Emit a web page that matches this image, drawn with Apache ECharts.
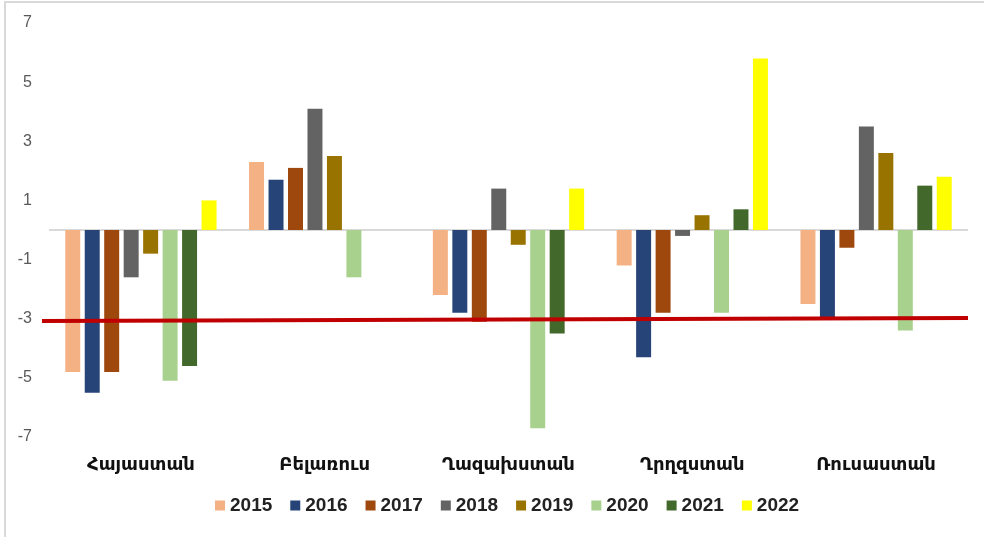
<!DOCTYPE html>
<html>
<head>
<meta charset="utf-8">
<script src="https://cdn.jsdelivr.net/npm/echarts@6/dist/echarts.min.js"></script>
<style>
html,body{margin:0;padding:0;background:#fff;}
#wrap{position:relative;width:984px;height:537px;}
#chart{width:984px;height:537px;}
#frame{position:absolute;left:4px;top:1px;right:0;bottom:0;border-left:2px solid #d9d9d9;border-top:2px solid #d9d9d9;pointer-events:none;}
</style>
</head>
<body>
<div id="wrap"><div id="chart"></div><div id="frame"></div></div>
<script>
const categories = ['Հայաստան', 'Բելառուս', 'Ղազախստան', 'Ղրղզստան', 'Ռուսաստան'];
const years = ['2015', '2016', '2017', '2018', '2019', '2020', '2021', '2022'];
const v2015 = [-4.8, 2.3, -2.2, -1.2, -2.5];
const v2016 = [-5.5, 1.7, -2.8, -4.3, -3.0];
const v2017 = [-4.8, 2.1, -3.1, -2.8, -0.6];
const v2018 = [-1.6, 4.1, 1.4, -0.2, 3.5];
const v2019 = [-0.8, 2.5, -0.5, 0.5, 2.6];
const v2020 = [-5.1, -1.6, -6.7, -2.8, -3.4];
const v2021 = [-4.6, null, -3.5, 0.7, 1.5];
const v2022 = [1.0, null, 1.4, 5.8, 1.8];
const yTicks = [-7, -5, -3, -1, 1, 3, 5, 7];
const refLine = [-3.08, -2.98];

const seriesValues = [v2015, v2016, v2017, v2018, v2019, v2020, v2021, v2022];
const colors = ['#F4B183', '#264478', '#9E480E', '#636363', '#997300', '#A9D18E', '#43682B', '#FFFF00'];

const chart = echarts.init(document.getElementById('chart'));
const bars = years.map((y, i) => ({
  name: y,
  type: 'bar',
  xAxisIndex: 0,
  yAxisIndex: 0,
  data: seriesValues[i],
  itemStyle: { color: colors[i] },
  barGap: '30%',
  barCategoryGap: '17.7%',
  z: 2,
  markLine: i === 0 ? {
    silent: true,
    symbol: 'none',
    label: { show: false },
    lineStyle: { color: '#d9d9d9', width: 2, type: 'solid' },
    data: [{ yAxis: 0 }],
    z: 1
  } : undefined
}));

const option = {
  animation: false,
  backgroundColor: '#fff',
  color: colors,
  legend: {
    data: years,
    bottom: 17,
    left: 210,
    itemWidth: 10,
    itemHeight: 10,
    itemGap: 18,
    icon: 'rect',
    textStyle: { fontFamily: 'Liberation Sans, DejaVu Sans', fontWeight: 'bold', fontSize: 19, color: '#222' }
  },
  grid: [
    { left: 49, right: 16, top: 23, bottom: 100 },
    { left: 42, right: 16, top: 23, bottom: 100 }
  ],
  xAxis: [
    {
      type: 'category',
      gridIndex: 0,
      data: categories,
      axisLine: { show: false, onZero: false },
      axisTick: { show: false },
      axisLabel: { margin: 19, fontFamily: 'DejaVu Sans', fontWeight: 'bold', fontSize: 18, color: '#111' }
    },
    {
      type: 'category',
      gridIndex: 1,
      data: ['a', 'b'],
      boundaryGap: false,
      show: false
    }
  ],
  yAxis: [
    {
      type: 'value',
      gridIndex: 0,
      min: -7,
      max: 7,
      interval: 1,
      splitLine: { show: false },
      axisLine: { show: false },
      axisTick: { show: false },
      axisLabel: {
        margin: 17,
        fontFamily: 'Liberation Sans',
        fontSize: 16,
        color: '#595959',
        formatter: v => yTicks.indexOf(v) >= 0 ? String(v) : ''
      }
    },
    { type: 'value', gridIndex: 1, min: -7, max: 7, show: false }
  ],
  series: bars.concat([{
    name: 'ref',
    type: 'line',
    xAxisIndex: 1,
    yAxisIndex: 1,
    data: refLine,
    symbol: 'none',
    silent: true,
    lineStyle: { color: '#C00000', width: 4 },
    z: 5
  }])
};
chart.setOption(option);
</script>
</body>
</html>
